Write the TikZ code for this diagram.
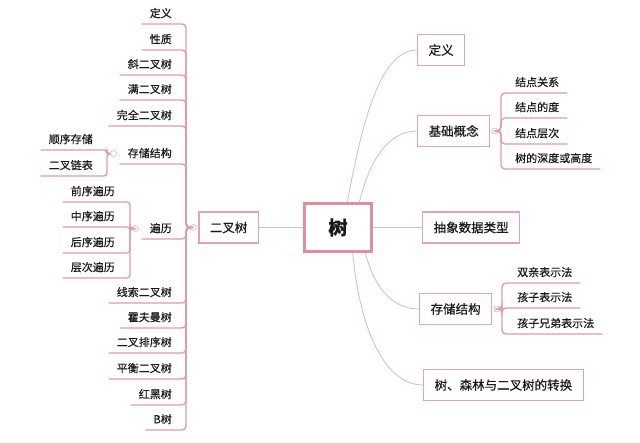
\documentclass[tikz,border=0pt]{standalone}
\usepackage{fontspec}
\setmainfont{Noto Sans CJK SC}[FakeBold=0.5]
\usepackage{tikz}
\usetikzlibrary{calc}
\usepackage{xcolor}

\definecolor{linkpink}{HTML}{DF9CA6}
\definecolor{boxpink}{HTML}{E4A4AC}
\definecolor{rootpink}{HTML}{E08E99}
\definecolor{curvegray}{HTML}{D6BCC0}
\definecolor{inkdark}{HTML}{1A1A1A}

\tikzset{
  topic/.style={draw=boxpink, line width=1.3pt, fill=white, minimum height=31pt,
    inner xsep=11pt, font=\fontsize{12.5}{14}\selectfont, text=inkdark},
  leaf/.style={inner xsep=8pt, inner ysep=5pt, text height=9pt, text depth=1.5pt,
    font=\fontsize{11}{13}\selectfont, text=inkdark},
  uline/.style={draw=linkpink, line width=1.4pt, rounded corners=4pt},
  subline/.style={uline, rounded corners=3pt},
  branch/.style={draw=curvegray, line width=0.8pt},
  fold/.style={circle, draw=curvegray, line width=0.6pt, fill=white,
    inner sep=0pt, minimum size=6pt}
}

\begin{document}
\begin{tikzpicture}[x=1pt, y=-1pt]

  \fill[white] (0,0) rectangle (640,442);
  \useasboundingbox (0,0) rectangle (640,442);

  % Root
  \node[draw=rootpink, line width=3pt, fill=white, minimum width=67pt, minimum height=48pt,
    font=\fontsize{19}{22}\selectfont\bfseries, text=inkdark] (root) at (338,227.5) {树};

  % Right topics
  \node[topic, anchor=west] (rdef) at (417,50) {定义};
  \node[topic, anchor=west] (rbase) at (417,131) {基础概念};
  \node[topic, anchor=west] (rabs) at (422,227.5) {抽象数据类型};
  \node[topic, anchor=west] (rstore) at (419,309) {存储结构};
  \node[topic, anchor=west] (rconv) at (423,385) {树、森林与二叉树的转换};

  \draw[branch] (root.70) .. controls ($(root.70)+(15,-80)$) and ($(rdef.west)+(-37,0)$) .. (rdef.west);
  \draw[branch] (root.50) .. controls ($(root.50)+(10,-40)$) and ($(rbase.west)+(-30,0)$) .. (rbase.west);
  \draw[branch] (root.east) -- (rabs.west);
  \draw[branch] (root.-43) .. controls ($(root.-43)+(8,30)$) and ($(rstore.west)+(-30,0)$) .. (rstore.west);
  \draw[branch] (root.-60) .. controls ($(root.-60)+(7,77)$) and ($(rconv.west)+(-38,0)$) .. (rconv.west);

  % Basic concepts
  \node[fold] (rbfold) at ($(rbase.east)+(4.5,0)$) {};
  \coordinate (rbspine) at (501,131);
  \foreach \nm/\y/\lbl in {rb1/93/结点关系, rb2/118/结点的度, rb3/144/结点层次, rb4/169/树的深度或高度}{
    \node[leaf, anchor=south west] (\nm) at (507,\y) {\lbl};
    \draw[uline] (\nm.south east) -- (\nm.south west -| rbspine) |- (rbfold.east);
  }

  % Storage of trees
  \node[fold] (rsfold) at ($(rstore.east)+(4.5,0)$) {};
  \coordinate (rsspine) at (502,309);
  \foreach \nm/\y/\lbl in {rs1/283/双亲表示法, rs2/308/孩子表示法, rs3/334/孩子兄弟表示法}{
    \node[leaf, anchor=south west] (\nm) at (509,\y) {\lbl};
    \draw[uline] (\nm.south east) -- (\nm.south west -| rsspine) |- (rsfold.east);
  }

  % Binary tree
  \node[topic, anchor=east] (bt) at (259,227.5) {二叉树};
  \draw[branch] (bt.east) -- (root.west);
  \node[fold] (bfold) at ($(bt.west)+(-5,0)$) {};
  \coordinate (bspine) at (186,227.5);

  \foreach \nm/\y/\lbl in {
    ldef/24/定义,
    lprop/50/性质,
    lskew/75/斜二叉树,
    lfull/100/满二叉树,
    lcomp/126/完全二叉树,
    lstore/164/存储结构,
    ltrav/239/遍历,
    lthread/303/线索二叉树,
    lhuff/328/霍夫曼树,
    lbst/353/二叉排序树,
    lavl/379/平衡二叉树,
    lrb/405/红黑树,
    lbtree/430/B树
  }{
    \node[leaf, anchor=south east] (\nm) at (180,\y) {\lbl};
    \draw[uline] (\nm.south west) -- (\nm.south east -| bspine) |- (bfold.west);
  }

  % Storage of binary trees
  \node[fold] (lsfold) at ($(lstore.west)+(-6,0)$) {};
  \coordinate (lsspine) at (107,153);
  \foreach \nm/\y/\lbl in {ls1/150/顺序存储, ls2/176/二叉链表}{
    \node[leaf, anchor=south east] (\nm) at (101,\y) {\lbl};
    \draw[subline] (\nm.south west) -- (\nm.south east -| lsspine) |- (lsfold.west);
  }

  % Traversal
  \node[fold] (ltfold) at ($(ltrav.west)+(-6,0)$) {};
  \coordinate (ltspine) at (130,229);
  \foreach \nm/\y/\lbl in {lt1/202/前序遍历, lt2/227/中序遍历, lt3/253/后序遍历, lt4/278/层次遍历}{
    \node[leaf, anchor=south east] (\nm) at (123,\y) {\lbl};
    \draw[subline] (\nm.south west) -- (\nm.south east -| ltspine) |- (ltfold.west);
  }

\end{tikzpicture}
\end{document}
